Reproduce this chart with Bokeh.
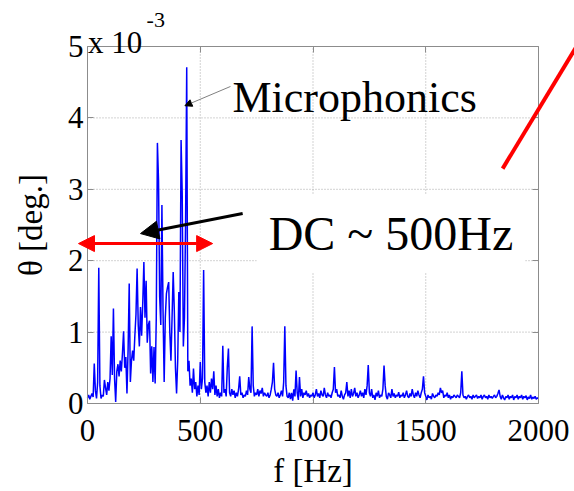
from bokeh.plotting import figure
from bokeh.models import (Label, Arrow, NormalHead, LinearAxis, Range1d,
                          FixedTicker, ColumnDataSource)
from bokeh.embed import file_html
from bokeh.resources import INLINE

# ---------------- data (theta in units of 1e-3 deg, 5 Hz sampling) ----------------
freq_hz = list(range(0, 2001, 5))
theta_1e3_deg = [
    # 0 - 95 Hz
    0.08, 0.12, 0.06, 0.10, 0.14, 0.09, 0.56, 0.18, 0.07, 0.30, 1.90, 0.25, 0.07, 0.12, 0.10, 0.33, 0.22, 0.12, 0.30, 0.18,
    # 100 - 195 Hz
    0.35, 0.94, 0.40, 1.33, 0.35, 0.02, 0.45, 0.55, 0.38, 0.60, 0.45, 0.70, 1.01, 0.50, 0.65, 0.14, 0.75, 1.68, 0.30, 0.60,
    # 200 - 295 Hz
    0.74, 0.60, 0.95, 1.25, 1.89, 1.10, 0.80, 1.35, 0.95, 1.40, 1.98, 1.20, 1.72, 0.85, 1.10, 1.16, 0.42, 0.80, 0.30, 0.79,
    # 300 - 395 Hz
    0.28, 1.20, 3.65, 3.12, 1.50, 1.10, 2.78, 1.30, 0.30, 1.20, 1.54, 1.63, 1.70, 1.00, 0.60, 1.20, 1.84, 1.30, 0.50, 0.14,
    # 400 - 495 Hz
    0.60, 1.56, 1.00, 3.69, 2.94, 0.80, 1.20, 2.55, 4.71, 0.45, 0.60, 0.25, 0.35, 0.15, 0.49, 0.20, 0.30, 0.10, 0.25, 0.12,
    # 500 - 595 Hz
    0.58, 0.20, 0.35, 1.87, 0.30, 0.15, 0.25, 0.10, 0.30, 0.15, 0.35, 0.20, 0.45, 0.12, 0.25, 0.10, 0.20, 0.08, 0.15, 0.10,
    # 600 - 695 Hz
    0.81, 0.15, 0.20, 0.10, 0.51, 0.77, 0.15, 0.10, 0.20, 0.12, 0.18, 0.08, 0.15, 0.10, 0.20, 0.38, 0.12, 0.15, 0.08, 0.12,
    # 700 - 795 Hz
    0.10, 0.18, 0.12, 0.37, 0.20, 0.15, 1.08, 0.25, 0.10, 0.15, 0.12, 0.20, 0.10, 0.18, 0.14, 0.22, 0.10, 0.15, 0.12, 0.10,
    # 800 - 895 Hz
    0.15, 0.08, 0.12, 0.20, 0.30, 0.57, 0.20, 0.12, 0.10, 0.15, 0.08, 0.12, 0.18, 0.10, 0.30, 1.08, 0.25, 0.10, 0.08, 0.15,
    # 900 - 995 Hz
    0.06, 0.15, 0.04, 0.20, 0.10, 0.46, 0.15, 0.05, 0.37, 0.10, 0.20, 0.08, 0.15, 0.12, 0.18, 0.10, 0.14, 0.08, 0.12, 0.10,
    # 1000 - 1095 Hz
    0.15, 0.08, 0.12, 0.20, 0.10, 0.14, 0.08, 0.18, 0.12, 0.10, 0.22, 0.12, 0.08, 0.15, 0.10, 0.12, 0.08, 0.15, 0.20, 0.51,
    # 1100 - 1195 Hz
    0.15, 0.20, 0.10, 0.12, 0.08, 0.18, 0.10, 0.06, 0.12, 0.15, 0.30, 0.10, 0.18, 0.08, 0.20, 0.10, 0.14, 0.22, 0.10, 0.15,
    # 1200 - 1295 Hz
    0.08, 0.12, 0.18, 0.10, 0.15, 0.08, 0.20, 0.12, 0.25, 0.54, 0.15, 0.10, 0.20, 0.08, 0.12, 0.05, 0.15, 0.10, 0.18, 0.08,
    # 1300 - 1395 Hz
    0.12, 0.10, 0.20, 0.53, 0.25, 0.10, 0.06, 0.15, 0.12, 0.08, 0.20, 0.10, 0.14, 0.08, 0.12, 0.10, 0.16, 0.08, 0.12, 0.10,
    # 1400 - 1495 Hz
    0.15, 0.08, 0.12, 0.18, 0.10, 0.08, 0.14, 0.10, 0.20, 0.12, 0.08, 0.15, 0.10, 0.18, 0.12, 0.08, 0.15, 0.20, 0.38, 0.15,
    # 1500 - 1595 Hz
    0.10, 0.05, 0.12, 0.08, 0.10, 0.06, 0.14, 0.10, 0.08, 0.12, 0.10, 0.15, 0.12, 0.22, 0.15, 0.18, 0.08, 0.12, 0.10, 0.15,
    # 1600 - 1695 Hz
    0.08, 0.12, 0.06, 0.10, 0.08, 0.12, 0.10, 0.08, 0.12, 0.10, 0.08, 0.15, 0.45, 0.12, 0.08, 0.10, 0.06, 0.10, 0.12, 0.08,
    # 1700 - 1795 Hz
    0.10, 0.06, 0.12, 0.08, 0.10, 0.12, 0.07, 0.10, 0.08, 0.12, 0.06, 0.10, 0.12, 0.08, 0.10, 0.06, 0.12, 0.08, 0.10, 0.07,
    # 1800 - 1895 Hz
    0.10, 0.12, 0.08, 0.10, 0.14, 0.19, 0.10, 0.06, 0.12, 0.08, 0.05, 0.10, 0.08, 0.12, 0.06, 0.10, 0.08, 0.12, 0.05, 0.10,
    # 1900 - 2000 Hz
    0.08, 0.12, 0.06, 0.10, 0.08, 0.12, 0.06, 0.10, 0.08, 0.11, 0.05, 0.09, 0.07, 0.12, 0.06, 0.09, 0.07, 0.10, 0.06, 0.08,
    0.07,
]
x_ticks = [0, 500, 1000, 1500, 2000]
y_ticks = [0, 1, 2, 3, 4, 5]
x_lim = (0, 2000)
y_lim = (0, 5)

FONT = "Liberation Serif"
GREY = "#8c8c8c"

# page layout (pixels): the axes box sits inside a canvas-wide frame so that
# annotations reaching outside the box are not clipped
W, H = 574, 491
BOX_L, BOX_R, BOX_T, BOX_B = 87, 538, 46, 403
sx = (BOX_R - BOX_L) / (x_lim[1] - x_lim[0])
sy = (BOX_B - BOX_T) / (y_lim[1] - y_lim[0])
xr = Range1d(x_lim[0] - BOX_L / sx, x_lim[1] + (W - BOX_R) / sx)
yr = Range1d(y_lim[0] - (H - BOX_B) / sy, y_lim[1] + BOX_T / sy)

src = ColumnDataSource(dict(f=freq_hz, theta=theta_1e3_deg))

p = figure(width=W, height=H, output_backend="svg", toolbar_location=None,
           x_range=xr, y_range=yr, x_axis_location=None, y_axis_location=None,
           min_border=0)
p.background_fill_color = "white"
p.border_fill_color = "white"
p.outline_line_color = None
p.xgrid.visible = False
p.ygrid.visible = False

# dotted grid inside the axes box (at the inner tick positions)
gx = [t for t in x_ticks if x_lim[0] < t < x_lim[1]]
gy = [t for t in y_ticks if y_lim[0] < t < y_lim[1]]
grid_xs = [[t, t] for t in gx] + [list(x_lim) for _ in gy]
grid_ys = [list(y_lim) for _ in gx] + [[t, t] for t in gy]
p.multi_line(xs=grid_xs, ys=grid_ys, line_color="#a6a6a6", line_dash="1 2",
             line_width=1)

p.line("f", "theta", source=src, line_color="#0000ff", line_width=1.5)


def style_axis(ax, labels=True):
    ax.axis_line_color = GREY
    ax.major_tick_line_color = GREY
    ax.major_tick_in = 6
    ax.major_tick_out = 0
    ax.minor_tick_line_color = None
    ax.major_label_text_font = FONT
    ax.major_label_text_font_size = "31px"
    ax.major_label_text_color = "black" if labels else None
    ax.axis_label_text_font = FONT
    ax.axis_label_text_font_size = "33px"
    ax.axis_label_text_font_style = "normal"
    ax.axis_label_text_color = "black"


xaxis = LinearAxis(ticker=FixedTicker(ticks=x_ticks), fixed_location=y_lim[0],
                   bounds=x_lim, axis_label="f [Hz]")
yaxis = LinearAxis(ticker=FixedTicker(ticks=y_ticks), fixed_location=x_lim[0],
                   bounds=y_lim, axis_label="θ [deg.]")
style_axis(xaxis)
style_axis(yaxis)
xaxis.major_label_standoff = 16
xaxis.axis_label_standoff = 9
yaxis.major_label_standoff = 4
yaxis.axis_label_standoff = 16
p.add_layout(xaxis, "below")
p.add_layout(yaxis, "left")

top_ax = LinearAxis(ticker=FixedTicker(ticks=x_ticks), fixed_location=y_lim[1],
                    bounds=x_lim)
right_ax = LinearAxis(ticker=FixedTicker(ticks=y_ticks), fixed_location=x_lim[1],
                      bounds=y_lim)
style_axis(top_ax, labels=False)
style_axis(right_ax, labels=False)
p.add_layout(top_ax, "above")
p.add_layout(right_ax, "right")

# exponent label
p.add_layout(Label(x=2, y=5.06, text="x 10", text_font=FONT, text_font_size="31px",
                   text_color="black", text_baseline="alphabetic"))
p.add_layout(Label(x=262, y=5.37, text="-3", text_font=FONT, text_font_size="22px",
                   text_color="black", text_baseline="alphabetic"))

# annotation: Microphonics
p.add_layout(Arrow(x_start=634, y_start=4.44, x_end=432, y_end=4.17,
                   line_color="#808080", line_width=1,
                   end=NormalHead(size=7, fill_color="black", line_color="black")))
p.add_layout(Label(x=643, y=4.29, text="Microphonics", text_font=FONT,
                   text_font_size="44px", text_color="black",
                   text_baseline="alphabetic"))

# annotation: DC ~ 500Hz (on a white text box)
p.add_layout(Label(x=750, y=2.38, text="DC ~ 500Hz", text_font=FONT,
                   text_font_size="48px", text_color="black",
                   text_baseline="alphabetic", background_fill_color="white",
                   padding=12))
p.add_layout(Arrow(x_start=688, y_start=2.66, x_end=235, y_end=2.38,
                   line_color="black", line_width=3,
                   end=NormalHead(size=18, fill_color="black", line_color="black")))

# red double arrow (DC..500 Hz)
p.add_layout(Arrow(x_start=-40, y_start=2.24, x_end=555, y_end=2.24,
                   line_color="red", line_width=3,
                   start=NormalHead(size=16, fill_color="red", line_color="red"),
                   end=NormalHead(size=16, fill_color="red", line_color="red")))

# red slanted line at the right
p.add_layout(Arrow(x_start=1841, y_start=3.29, x_end=2232, y_end=5.33,
                   line_color="red", line_width=4, end=None))

open("out.html", "w").write(file_html(p, INLINE))
